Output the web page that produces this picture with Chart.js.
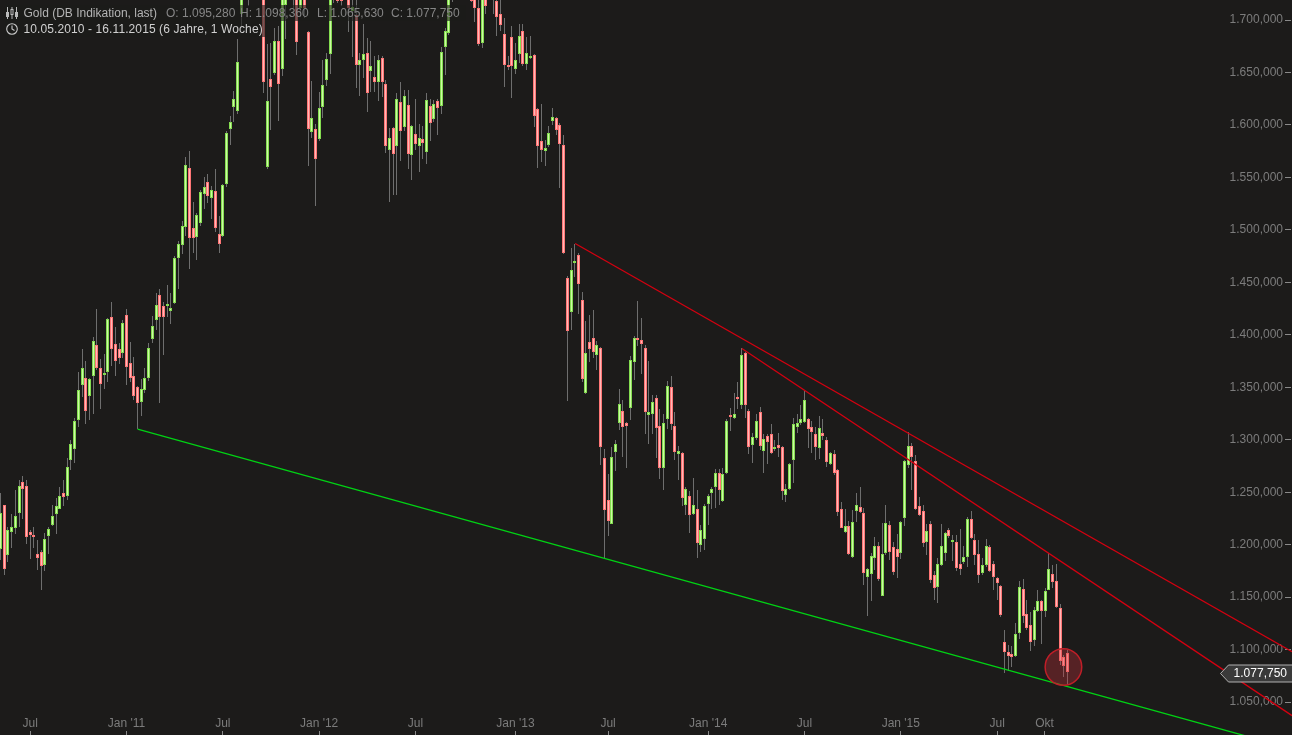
<!DOCTYPE html>
<html>
<head>
<meta charset="utf-8">
<title>Gold (DB Indikation, last)</title>
<script src="https://cdn.jsdelivr.net/npm/chart.js@4"></script>
<style>
html,body{margin:0;padding:0;background:#1c1b1a;overflow:hidden}
#wrap{position:relative;width:1292px;height:735px}
canvas{position:absolute;left:0;top:0}
.hd{position:absolute;left:5px;background:rgba(28,27,26,.62);font:12px/16px "Liberation Sans",Arial,sans-serif;white-space:pre;height:16px}
.hd span{position:absolute;top:0}
.hd svg{position:absolute;left:0;top:1px}
</style>
</head>
<body>
<div id="wrap">
<canvas id="c" width="1292" height="735"></canvas>
<div class="hd" style="top:5px;width:461px">
<svg width="14" height="14" viewBox="0 0 14 14" fill="none" stroke="#bbb" stroke-width="1"><path d="M2.5 1V13M7 1V13M11.5 1V13"/><rect x="1.5" y="6.5" width="2" height="4" fill="#bbb"/><rect x="6" y="3.5" width="2" height="5" fill="#1c1b1a"/><rect x="10.5" y="6.5" width="2" height="4" fill="#bbb"/></svg>
<span style="left:18.5px;color:#b4b4b4">Gold (DB Indikation, last)</span>
<span style="left:161px;color:#868686">O: 1.095,280</span>
<span style="left:235px;color:#868686">H: 1.098,360</span>
<span style="left:312px;color:#868686">L: 1.065,630</span>
<span style="left:386px;color:#868686">C: 1.077,750</span>
</div>
<div class="hd" style="top:21px;width:263px">
<svg width="14" height="14" viewBox="0 0 14 14" fill="none" stroke="#ccc" stroke-width="1.1"><circle cx="7" cy="7" r="5.3"/><path d="M7 3.5V7L9.5 8.5"/></svg>
<span style="left:18.5px;color:#d0d0d0;letter-spacing:.1px">10.05.2010 - 16.11.2015 (6 Jahre, 1 Woche)</span>
</div>
</div>
<script>
const opens = [
1195,1237,1189,1211,1215,1229,1259,1255,1211,1208,
1190,1192,1180,1207,1218,1228,1233,1248,1245,1280,
1290,1318,1351,1358,1341,1360,1389,1367,1361,1364,
1416,1390,1385,1382,1418,1372,1360,1349,1335,1346,
1358,1395,1413,1437,1426,1426,1422,1429,1472,1485,
1502,1558,1501,1492,1506,1533,1545,1529,1536,1495,
1493,1543,1595,1616,1612,1705,1760,1880,1790,1840,
1810,1780,1559,1643,1649,1679,1652,1713,1770,1780,
1745,1710,1760,1688,1592,1595,1586,1616,1642,1667,
1760,1750,1745,1725,1745,1708,1704,1656,1661,1668,
1650,1645,1640,1663,1638,1575,1596,1579,1621,1597,
1618,1570,1590,1579,1586,1573,1617,1605,1622,1617,
1673,1687,1750,1745,1770,1755,1740,1750,1750,1710,
1677,1745,1745,1725,1717,1705,1686,1656,1683,1652,
1667,1689,1657,1664,1666,1614,1584,1574,1580,1603,
1606,1599,1580,1453,1421,1468.5,1475,1432,1344,1392,
1396,1380,1386,1282,1242,1219,1287,1315,1326,1315,
1329,1373,1396,1394,1386,1323,1324,1339,1312,1272,
1319,1349,1312,1285,1286,1237,1245,1228,1233,1199,
1204,1238,1248,1254,1267,1241,1267,1323,1320,1340,
1332,1382,1326,1294,1301,1325,1288,1303,1304,1290,
1294,1292,1246,1252,1280,1311,1315,1316,1319,1311,
1304,1291,1305,1299,1276,1285,1270,1233,1211,1217,
1187,1231,1235,1229,1168,1171,1186,1198,1150,1191,
1218,1197,1195,1191,1224,1275,1293,1279,1236,1231,
1202,1219,1170,1159,1180,1191,1213,1202,1202,1181,
1182,1187,1223,1203,1190,1172,1180,1197,1181,1167,
1160,1106,1097,1095,1093,1115,1157,1133,1122,1108,
1136,1145,1136,1156,1171,1164,1139,1092,1095.28];
const closes = [
1229,1176,1213,1216,1226,1255,1252,1206,1208,1207.5,
1186,1179,1204,1214,1226,1236,1245,1244,1273,1295,
1317,1346,1367,1326,1357,1393,1367,1352,1363,1414,
1385,1374,1377,1410,1368,1358,1341,1334,1347,1358,
1386,1407,1427,1416,1416,1428,1425,1472,1486,1503,
1561,1491,1491,1513,1535,1540,1531,1537,1501,1486,
1542,1591,1602,1624,1659,1760,1820,1790,1840,1800,
1780,1640,1622,1635,1679,1638,1730,1740,1740,1745,
1678,1750,1710,1595,1606,1567,1615,1637,1662,1735,
1735,1717,1717,1750,1710,1711,1656,1661,1667,1629,
1655,1640,1661,1640,1579,1587,1571,1624,1593,1627,
1571,1598,1581,1587,1582,1623,1601,1619,1615,1669,
1689,1745,1790,1770,1745,1735,1765,1717,1710,1676,
1745,1712,1725,1740,1702,1694,1656,1655,1655,1661,
1684,1657,1668,1665,1608,1579,1575,1577,1591,1607,
1594,1581,1477,1403,1461,1469,1447,1357,1382,1385,
1383,1389,1292,1232,1222,1283,1295,1333,1311,1312,
1375,1396,1394,1390,1325,1325,1335,1310,1272,1315,
1350,1314,1287,1288,1243,1252,1227,1237,1201,1213,
1236,1245,1252,1267,1251,1266,1317,1322,1324,1339,
1380,1332,1292,1302,1317,1293,1300,1297,1286,1292,
1291,1250,1252,1276,1314,1315,1319,1337,1309,1306,
1292,1310,1303,1278,1286,1267,1230,1215,1217,1190,
1221,1237,1230,1172,1176,1188,1198,1166,1190,1220,
1192,1173,1187,1221,1279,1293,1283,1233,1227,1201,
1212,1165,1158,1181,1198,1210,1207,1203,1177,1176,
1187,1223,1205,1189,1170,1180,1198,1174,1168,1162,
1132,1097,1093,1092,1114,1159,1131,1120,1106,1137,
1145,1136,1155,1176,1163,1140,1088,1083,1077.75];
const highs = [
1248,1237,1216,1228,1251,1261,1264,1261,1213,1216,
1203,1194,1210,1216,1237,1243,1254,1261,1282,1299,
1320,1364,1385,1374,1358,1397,1424,1376,1381,1415,
1430,1406,1391,1413,1424,1392,1378,1350,1357,1367,
1391,1417,1439,1443,1430,1446,1439,1474,1488,1507,
1568,1574,1526,1515,1537,1549,1552,1541,1557,1512,
1543,1593,1608,1631,1681,1790,1850,1900,1880,1860,
1850,1800,1676,1677,1691,1693,1750,1760,1790,1800,
1770,1770,1780,1689,1641,1600,1630,1661,1668,1760,
1780,1770,1760,1770,1760,1730,1720,1668,1695,1682,
1679,1665,1666,1665,1642,1596,1597,1629,1640,1632,
1632,1599,1624,1600,1598,1629,1624,1623,1624,1673,
1691,1750,1795,1790,1795,1780,1785,1770,1760,1735,
1750,1760,1760,1755,1735,1725,1701,1665,1693,1677,
1695,1695,1683,1684,1667,1615,1619,1585,1598,1615,
1607,1601,1589,1455,1482,1486,1477,1440,1412,1418,
1423,1393,1387,1290,1266,1292,1299,1347,1337,1316,
1379,1398,1431,1415,1389,1374,1342,1342,1328,1324,
1355,1360,1325,1293,1287,1254,1250,1263,1251,1218,
1238,1247,1254,1271,1271,1272,1319,1329,1344,1354,
1386,1383,1328,1305,1324,1330,1304,1304,1314,1299,
1305,1293,1257,1277,1320,1324,1332,1345,1320,1317,
1311,1322,1319,1302,1287,1289,1271,1240,1233,1222,
1232,1248,1254,1234,1177,1191,1206,1202,1220,1237,
1222,1202,1209,1222,1280,1306,1296,1284,1244,1237,
1219,1222,1174,1186,1219,1211,1215,1208,1208,1214,
1198,1225,1231,1209,1203,1186,1204,1199,1183,1168,
1161,1118,1103,1102,1124,1164,1166,1146,1135,1140,
1156,1146,1158,1191,1180,1181,1142,1094,1098.36];
const lows = [
1184,1170,1182,1196,1209,1216,1223,1200,1185,1196,
1175,1156,1174,1190,1217,1209,1233,1236,1242,1270,
1277,1311,1340,1314,1318,1324,1365,1328,1347,1354,
1369,1360,1371,1377,1351,1354,1337,1309,1322,1344,
1355,1391,1404,1334,1380,1416,1409,1428,1443,1476,
1493,1462,1477,1470,1503,1519,1525,1509,1497,1477,
1492,1540,1580,1602,1609,1693,1745,1712,1770,1760,
1750,1629,1557,1594,1647,1603,1646,1681,1725,1710,
1666,1702,1701,1560,1587,1522,1584,1606,1636,1648,
1715,1715,1712,1720,1688,1664,1634,1627,1644,1611,
1630,1630,1622,1626,1572,1526,1532,1532,1565,1593,
1557,1547,1575,1554,1567,1562,1584,1602,1589,1609,
1647,1685,1716,1730,1730,1725,1725,1716,1697,1674,
1672,1705,1720,1705,1684,1689,1635,1651,1625,1648,
1658,1655,1651,1662,1597,1558,1564,1560,1578,1599,
1589,1539,1476,1336,1404,1454,1419,1354,1343,1373,
1377,1365,1275,1185,1207,1219,1269,1308,1283,1272,
1318,1356,1388,1362,1304,1295,1304,1282,1262,1251,
1309,1308,1280,1261,1236,1227,1210,1227,1186,1192,
1194,1218,1233,1234,1237,1240,1266,1307,1319,1328,
1328,1320,1285,1277,1299,1289,1267,1276,1285,1288,
1283,1242,1240,1251,1258,1305,1313,1315,1291,1286,
1280,1281,1299,1273,1275,1265,1226,1215,1210,1189,
1186,1221,1229,1161,1131,1145,1175,1164,1150,1189,
1184,1170,1167,1185,1217,1272,1251,1232,1226,1197,
1189,1162,1146,1143,1179,1183,1205,1183,1174,1170,
1181,1178,1204,1180,1162,1170,1178,1173,1156,1146,
1130,1077,1079,1082,1092,1109,1124,1118,1098,1102,
1135,1104,1130,1156,1158,1139,1084,1073,1065.63];

const xTickValues = [8,34,60,86,112,139,164,191,217,243,269,281.8];
const xTickLabels = ["Jul","Jan '11","Jul","Jan '12","Jul","Jan '13","Jul","Jan '14","Jul","Jan '15","Jul","Okt"];
const yTickValues = [1050,1100,1150,1200,1250,1300,1350,1400,1450,1500,1550,1600,1650,1700];
const yTickLabels = ["1.050,000","1.100,000","1.150,000","1.200,000","1.250,000","1.300,000","1.350,000","1.400,000","1.450,000","1.500,000","1.550,000","1.600,000","1.650,000","1.700,000"];

const greenTrend = [[37,1310],[345,1009]];
const redTrendUpper = [[155.1,1487],[348.6,1098]];
const redTrendLower = [[200.1,1387],[348.6,1037]];
const marker = [286.9,1083.4];
const lastClose = 1077.75;
const lastLabel = "1.077,750";
const readingBias = 1; // the candle values above were read about one unit low against the tick marks

const UP_EDGE='#84dc50', UP_FILL='#ccfaa4', DOWN_EDGE='#ff7676', DOWN_FILL='#ffb8b8';
const isUp = opens.map((o,i)=>closes[i]>=o);

const wickData = highs.map((h,i)=>({x:i,y:[lows[i]+readingBias,h+readingBias]}));
const bodyData = opens.map((o,i)=>({x:i,y:[Math.min(o,closes[i])+readingBias,Math.max(o,closes[i])+readingBias]}));
const toPts = a => a.map(p=>({x:p[0],y:p[1]}));
const zeroPadding = s => {s.paddingLeft=0;s.paddingRight=0;s.paddingTop=0;s.paddingBottom=0;};

const snapBars = {
  id:'snapBars',
  beforeDatasetsDraw(chart){
    chart.data.datasets.forEach((ds,idx)=>{
      if(ds.type!=='bar')return;
      chart.getDatasetMeta(idx).data.forEach(el=>{
        const top=Math.round(Math.min(el.y,el.base));
        let bot=Math.round(Math.max(el.y,el.base));
        if(bot-top<2)bot=top+2;
        el.x=Math.round(el.x-0.5)+0.5;
        el.y=top; el.base=bot;
      });
    });
  }
};
const priceTag = {
  id:'priceTag',
  afterDraw(chart){
    const c=chart.ctx, y=Math.round(chart.scales.y.getPixelForValue(lastClose))+0.5;
    c.save();
    c.beginPath();
    c.moveTo(1293,y-8.5);c.lineTo(1228.5,y-8.5);c.lineTo(1220.5,y);c.lineTo(1228.5,y+8.5);c.lineTo(1293,y+8.5);c.closePath();
    c.fillStyle='#3a3a3a';c.fill();
    c.strokeStyle='#b0b0b0';c.lineWidth=1;c.stroke();
    c.fillStyle='#ffffff';c.font='12px "Liberation Sans",Arial,sans-serif';
    c.textAlign='right';c.textBaseline='middle';
    c.fillText(lastLabel,1287,y);
    c.restore();
  }
};

new Chart(document.getElementById('c'),{
  type:'bar',
  data:{datasets:[
    {type:'line',data:toPts(greenTrend),borderColor:'#00d214',borderWidth:1.3,pointRadius:0,order:1,clip:false,tension:0},
    {type:'line',data:toPts(redTrendUpper),borderColor:'#d40010',borderWidth:1.3,pointRadius:0,order:1,clip:false,tension:0},
    {type:'line',data:toPts(redTrendLower),borderColor:'#d40010',borderWidth:1.3,pointRadius:0,order:1,clip:false,tension:0},
    {type:'scatter',data:[{x:marker[0],y:marker[1]}],pointRadius:18.3,pointHoverRadius:18.3,pointBackgroundColor:'rgba(200,50,60,0.34)',pointBorderColor:'#c01e28',pointBorderWidth:1.5,order:0,clip:false},
    {type:'bar',data:bodyData,barThickness:3,grouped:false,backgroundColor:isUp.map(u=>u?UP_FILL:DOWN_FILL),borderColor:isUp.map(u=>u?UP_EDGE:DOWN_EDGE),borderWidth:1,borderSkipped:false,inflateAmount:0,order:2,clip:false},
    {type:'bar',data:wickData,barThickness:1,grouped:false,backgroundColor:'#6e6e6e',borderWidth:0,inflateAmount:0,order:3,clip:false}
  ]},
  options:{
    responsive:false,animation:false,
    layout:{padding:0,autoPadding:false},
    events:[],
    plugins:{legend:{display:false},tooltip:{enabled:false},title:{display:false}},
    scales:{
      x:{type:'linear',position:'bottom',offset:false,min:-0.135,max:346.7,
        afterBuildTicks(s){s.ticks=xTickValues.map(v=>({value:v}));},
        afterFit(s){s.height=4;zeroPadding(s);},
        border:{display:false},
        grid:{offset:false,drawOnChartArea:false,drawTicks:true,tickLength:4,tickColor:'#8a8a8a',tickWidth:1},
        ticks:{mirror:true,autoSkip:false,maxRotation:0,padding:0.5,color:'#7c7c7c',font:{family:'"Liberation Sans",Arial,sans-serif',size:12},
          callback(v){return xTickLabels[xTickValues.indexOf(v)];}}
      },
      y:{type:'linear',position:'right',min:1022.4,max:1719.1,
        afterBuildTicks(s){s.ticks=yTickValues.map(v=>({value:v}));},
        afterFit(s){s.width=7;zeroPadding(s);},
        border:{display:false},
        grid:{drawOnChartArea:false,drawTicks:true,tickLength:6,tickColor:'#8a8a8a',tickWidth:1},
        ticks:{mirror:true,padding:-2,autoSkip:false,color:'#7c7c7c',font:{family:'"Liberation Sans",Arial,sans-serif',size:12},
          callback(v){return yTickLabels[yTickValues.indexOf(v)];}}
      }
    }
  },
  plugins:[snapBars,priceTag]
});
</script>
</body>
</html>
